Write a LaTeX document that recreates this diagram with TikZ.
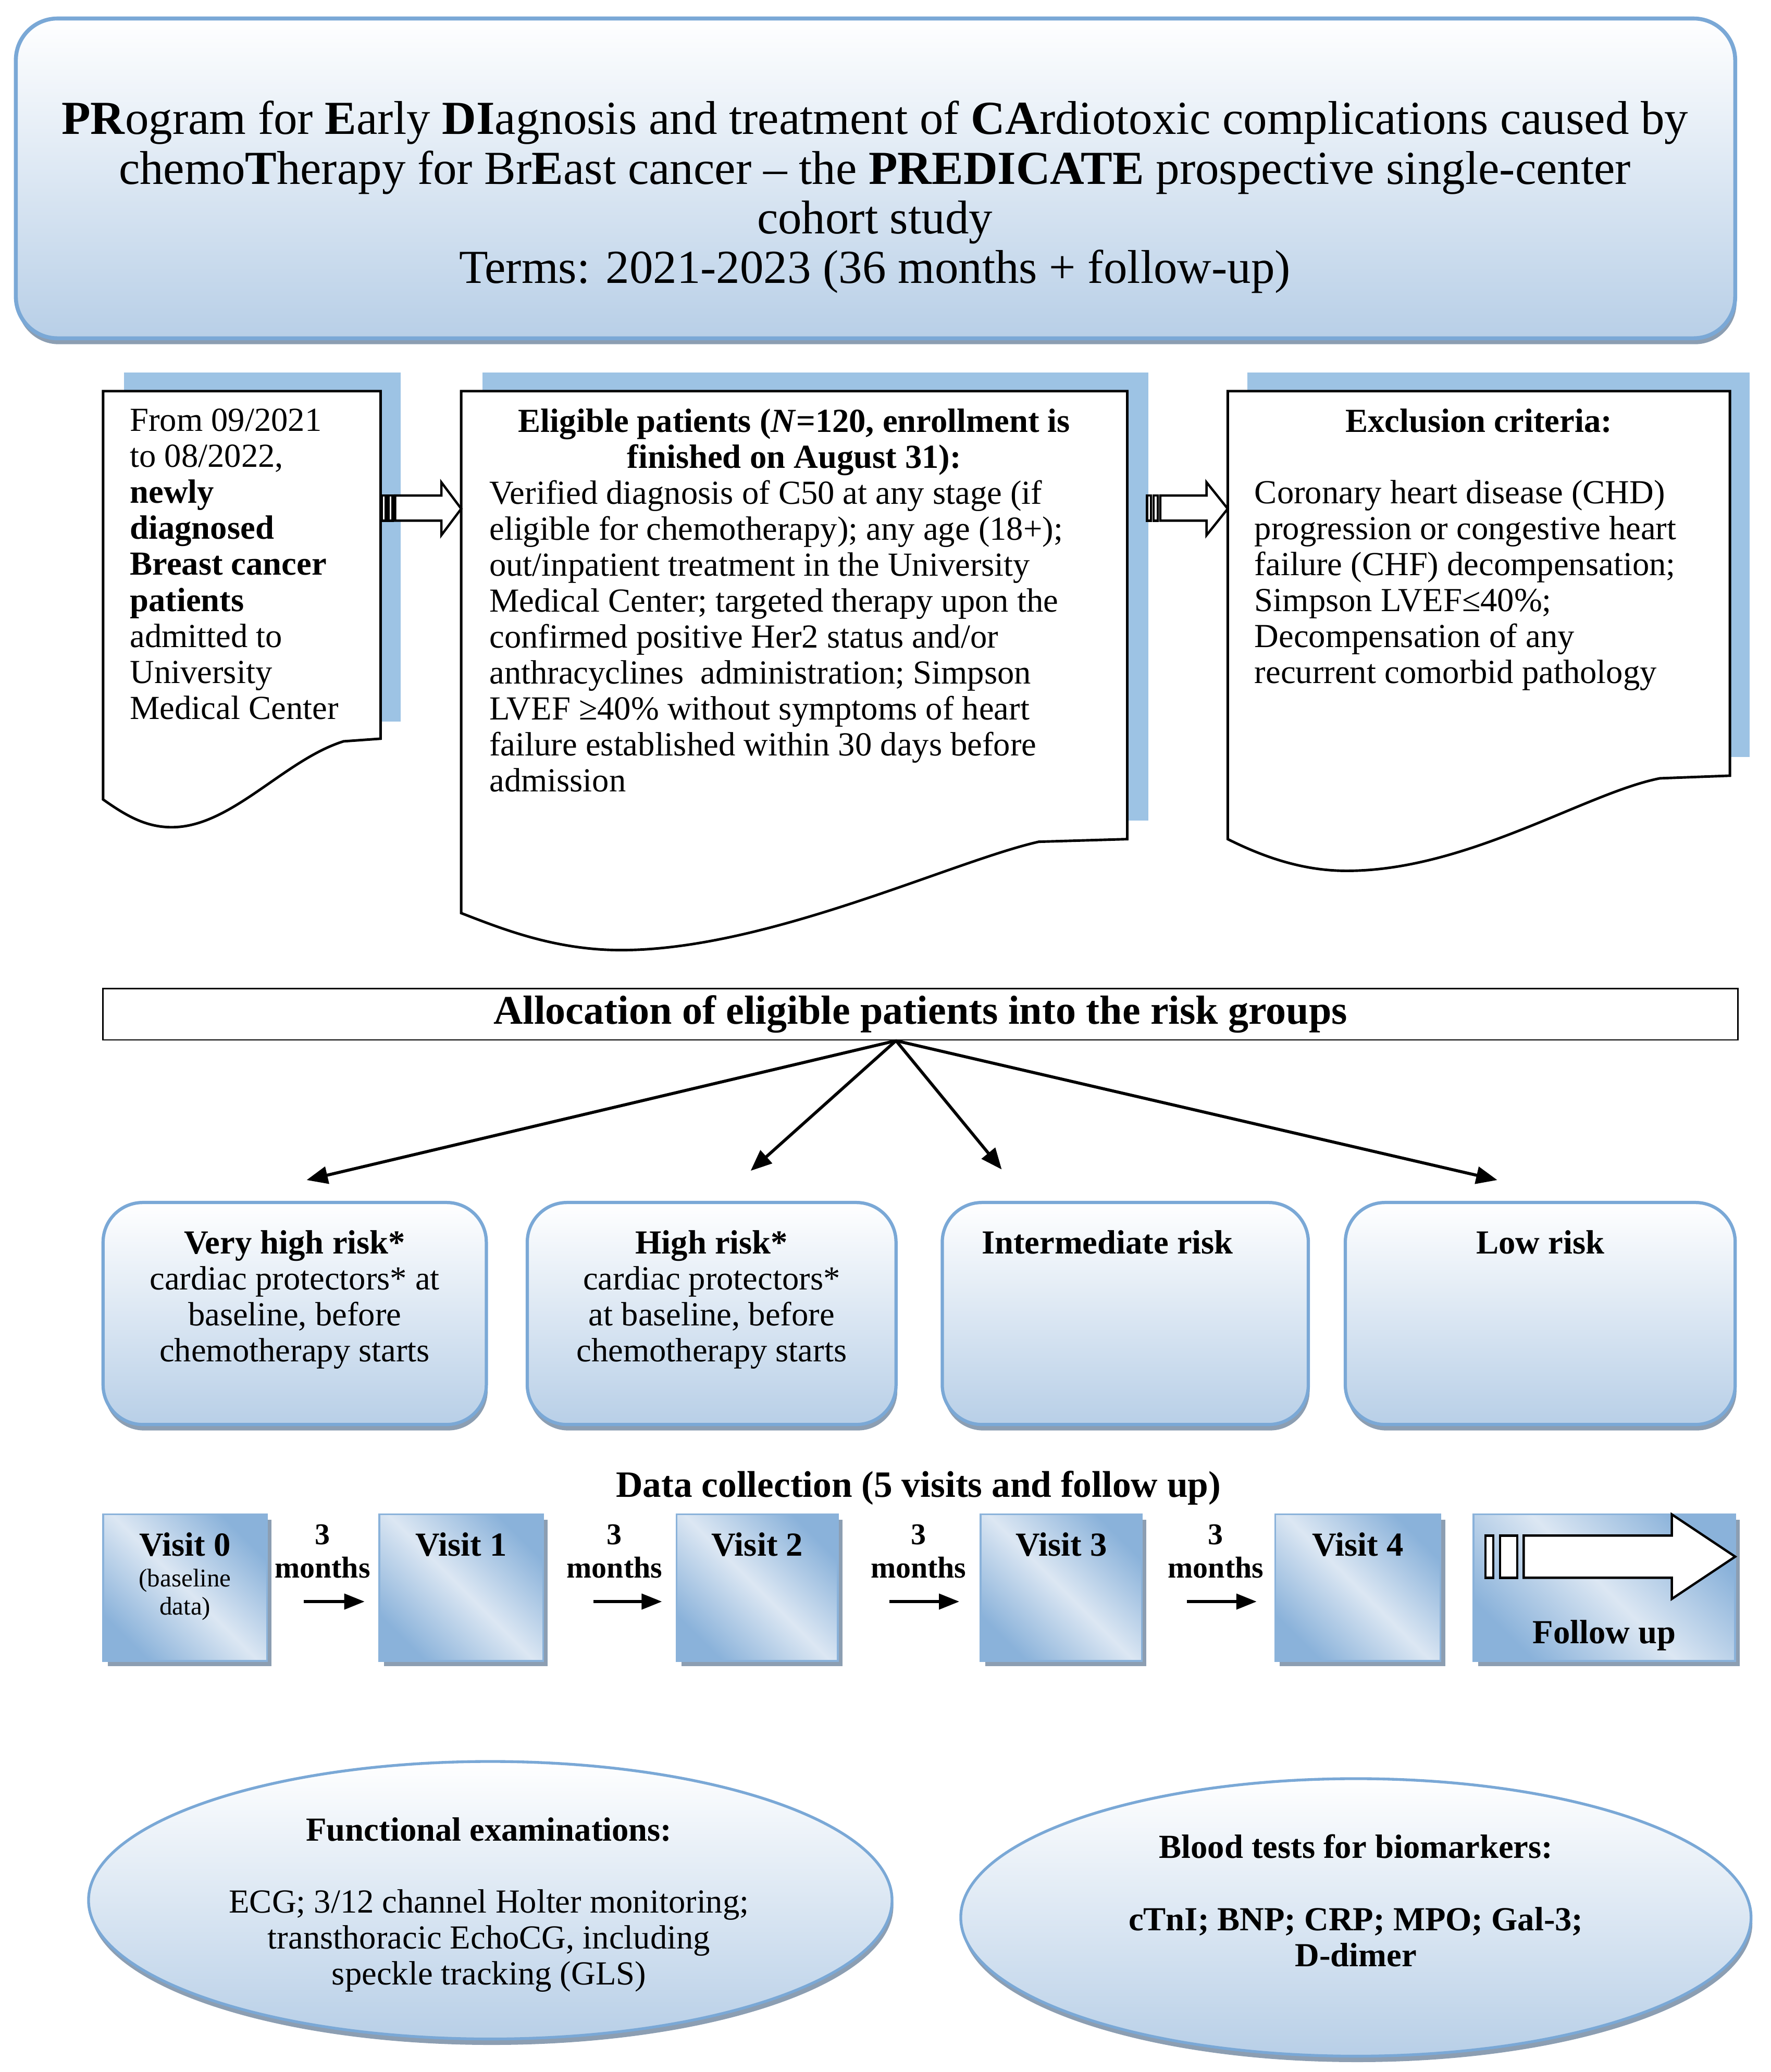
\documentclass[tikz,border=0pt]{standalone}
\usepackage{fontspec}
\setmainfont{Liberation Serif}
\usetikzlibrary{arrows.meta, positioning, shapes.geometric, shadows}

\definecolor{boxline}{RGB}{122,168,214}
\definecolor{boxfill}{RGB}{184,207,231}
\definecolor{shadowgray}{RGB}{140,158,178}
\definecolor{docblue}{RGB}{157,195,228}
\definecolor{visitdark}{RGB}{138,178,218}
\definecolor{visitlight}{RGB}{220,231,243}

\newcommand{\fsz}[2]{\fontsize{#1}{#2}\selectfont}

\tikzset{
	roundbox/.style={draw=boxline, line width=1.4pt, top color=white, bottom color=boxfill, rounded corners=6mm, inner sep=0pt,
		drop shadow={shadow xshift=0.2mm, shadow yshift=-0.9mm, fill=shadowgray, opacity=1}},
	ovalbox/.style={ellipse, draw=boxline, line width=1.2pt, top color=white, bottom color=boxfill, inner sep=0pt,
		drop shadow={shadow xshift=0.2mm, shadow yshift=-0.9mm, fill=shadowgray, opacity=1}},
	visitbox/.style={draw=visitdark, line width=0.8pt, top color=visitdark, bottom color=visitdark, middle color=visitlight,
		shading angle=-45, minimum height=22.2mm, inner sep=0pt,
		drop shadow={shadow xshift=0.7mm, shadow yshift=-0.8mm, fill=shadowgray, opacity=1}},
	docpage/.style={draw=black, line width=1.1pt, fill=white},
	blockarrow/.style={draw=black, line width=1pt, fill=white},
	bodytext/.style={font=\fsz{14.5pt}{15.5pt}, inner sep=0pt},
	headtext/.style={font=\fsz{14.5pt}{15.5pt}\bfseries, inner sep=0pt},
	monthlbl/.style={font=\fsz{13pt}{14.2pt}\bfseries, align=center, inner sep=0pt},
	flowarrow/.style={->, line width=1.3pt},
	montharrow/.style={-{Triangle[length=3.1mm,width=2.3mm]}, line width=1.5pt},
}

\begin{document}
\begin{tikzpicture}[x=0.2mm, y=-0.2mm, >={Triangle[length=3.2mm,width=2.6mm]}]
	\useasboundingbox (0,0) rectangle (1340,1568);
	
	% --- TITLE ---
	\node[roundbox, rounded corners=6.3mm, line width=1.7pt, minimum width=260.2mm, minimum height=48.4mm] (title) at (662.5,135) {};
	\node[anchor=north, align=center, inner sep=0pt, font=\fsz{20.4pt}{21.4pt}] (titlelbl) at (662,76) {
		\textbf{PR}ogram for \textbf{E}arly \textbf{DI}agnosis and treatment of \textbf{CA}rdiotoxic complications caused by\\
		chemo\textbf{T}herapy for Br\textbf{E}ast cancer -- the \textbf{PREDICATE} prospective single-center\\
		cohort study\\
		Terms: 2021-2023 (36 months + follow-up)
	};
	
	% --- DOCUMENTS (blue backing first) ---
	\fill[docblue] (94,282) rectangle (303,546);
	\fill[docblue] (365,282) rectangle (869,621);
	\fill[docblue] (944,282) rectangle (1324,573);
	
	\draw[docpage] (78,296) -- (288,296) -- (288,559) -- (260,561)
		.. controls (215,575) and (175,626) .. (130,626)
		.. controls (110,626) and (95,617) .. (78,605) -- cycle;
	\draw[docpage] (349,296) -- (853,296) -- (853,635) -- (786,637)
		.. controls (720,652) and (580,719) .. (470,719)
		.. controls (420,719) and (380,703) .. (349,691) -- cycle;
	\draw[docpage] (929,296) -- (1309,296) -- (1309,587) -- (1256,589)
		.. controls (1200,600) and (1110,659) .. (1019,659)
		.. controls (985,659) and (955,648) .. (929,635) -- cycle;
	
	\node[bodytext, anchor=north west, align=left] (srclbl) at (98,309) {
		From 09/2021\\ to 08/2022,\\ \textbf{newly}\\ \textbf{diagnosed}\\ \textbf{Breast cancer}\\
		\textbf{patients}\\ admitted to\\ University\\ Medical Center
	};
	
	\node[headtext, anchor=north, align=center] (eliglbl) at (601,309) {
		Eligible patients (\textit{N}=120, enrollment is\\ finished on August 31):
	};
	\node[bodytext, anchor=north west, align=left] (eligtxt) at (370,363) {
		Verified diagnosis of C50 at any stage (if\\
		eligible for chemotherapy); any age (18+);\\
		out/inpatient treatment in the University\\
		Medical Center; targeted therapy upon the\\
		confirmed positive Her2 status and/or\\
		anthracyclines\ \ administration; Simpson\\
		LVEF ≥40\% without symptoms of heart\\
		failure established within 30 days before\\
		admission
	};
	
	\node[headtext, anchor=north] (exclhead) at (1119,309) {Exclusion criteria:};
	\node[bodytext, anchor=north west, align=left] (excltxt) at (949,363) {
		Coronary heart disease (CHD)\\
		progression or congestive heart\\
		failure (CHF) decompensation;\\
		Simpson LVEF≤40\%;\\
		Decompensation of any\\
		recurrent comorbid pathology
	};
	
	% block arrows between the documents
	\draw[blockarrow] (289,375) rectangle (292,394);
	\draw[blockarrow] (294,375) rectangle (297,394);
	\draw[blockarrow] (299,375) -- (334,375) -- (334,365) -- (349,385) -- (334,405) -- (334,394) -- (299,394) -- cycle;
	\draw[blockarrow] (868,375) rectangle (871,394);
	\draw[blockarrow] (873,375) rectangle (876,394);
	\draw[blockarrow] (878,375) -- (913,375) -- (913,365) -- (929,385) -- (913,405) -- (913,394) -- (878,394) -- cycle;
	
	% --- ALLOCATION ---
	\node[draw, line width=0.6pt, minimum width=247.4mm, minimum height=7.8mm, inner sep=0pt,
		font=\fsz{17.5pt}{19pt}\bfseries] (alloc) at (696.5,767.5) {Allocation of eligible patients into the risk groups};
	
	\node[roundbox, minimum width=58mm, minimum height=33.6mm] (vh) at (223,994) {};
	\node[roundbox, minimum width=55.8mm, minimum height=33.6mm] (hi) at (538.5,994) {};
	\node[roundbox, minimum width=55.4mm, minimum height=33.6mm] (im) at (851.5,994) {};
	\node[roundbox, minimum width=59mm, minimum height=33.6mm] (lo) at (1165.5,994) {};
	
	\node[bodytext, align=center, below=4.4mm of vh.north] (vhlbl) {
		\textbf{Very high risk*}\\ cardiac protectors* at\\ baseline, before\\ chemotherapy starts
	};
	\node[bodytext, align=center, below=4.4mm of hi.north] (hilbl) {
		\textbf{High risk*}\\ cardiac protectors*\\ at baseline, before\\ chemotherapy starts
	};
	\node[headtext, below=4.4mm of im.north, xshift=-2.7mm] (imlbl) {Intermediate risk};
	\node[headtext, below=4.4mm of lo.north] (lolbl) {Low risk};
	
	\coordinate (fork) at ([xshift=-3.7mm]alloc.south);
	\coordinate (t1) at (232,893);
	\coordinate (t2) at (568,886);
	\coordinate (t3) at (758,885);
	\coordinate (t4) at (1133,893);
	\draw[flowarrow] (fork) -- (t1);
	\draw[flowarrow] (fork) -- (t2);
	\draw[flowarrow] (fork) -- (t3);
	\draw[flowarrow] (fork) -- (t4);
	
	% --- DATA COLLECTION ---
	\node[font=\fsz{16pt}{18pt}\bfseries, inner sep=0pt] (datalbl) at (695,1126) {Data collection (5 visits and follow up)};
	
	\node[visitbox, minimum width=24.8mm] (v0) at (140,1201.5) {};
	\node[visitbox, minimum width=24.8mm] (v1) at (349,1201.5) {};
	\node[visitbox, minimum width=24.4mm] (v2) at (573,1201.5) {};
	\node[visitbox, minimum width=24.4mm] (v3) at (803,1201.5) {};
	\node[visitbox, minimum width=25mm] (v4) at (1027.5,1201.5) {};
	\node[visitbox, minimum width=39.6mm] (fu) at (1214,1201.5) {};
	
	\node[headtext, below=2.8mm of v0.north] (v0lbl) {Visit 0};
	\node[font=\fsz{11pt}{12pt}, align=center, inner sep=0pt, below=1.8mm of v0lbl] (v0sub) {(baseline\\ data)};
	\node[headtext, below=2.8mm of v1.north] (v1lbl) {Visit 1};
	\node[headtext, below=2.8mm of v2.north] (v2lbl) {Visit 2};
	\node[headtext, below=2.8mm of v3.north] (v3lbl) {Visit 3};
	\node[headtext, below=2.8mm of v4.north] (v4lbl) {Visit 4};
	
	% follow up arrow inside its box
	\draw[blockarrow] (1124,1162) rectangle (1130,1194);
	\draw[blockarrow] (1135,1162) rectangle (1148,1194);
	\draw[blockarrow] (1153,1162) -- (1265,1162) -- (1265,1146) -- (1313,1178) -- (1265,1210) -- (1265,1194) -- (1153,1194) -- cycle;
	\node[headtext] (fulbl) at ([yshift=4mm]fu.south) {Follow up};
	
	\node[monthlbl] (m1) at (244,1174) {3\\months};
	\node[monthlbl] (m2) at (465,1174) {3\\months};
	\node[monthlbl] (m3) at (695,1174) {3\\months};
	\node[monthlbl] (m4) at (920,1174) {3\\months};
	
	\coordinate (a1s) at (230,1212); \coordinate (a1e) at (276,1212);
	\coordinate (a2s) at (449,1212); \coordinate (a2e) at (501,1212);
	\coordinate (a3s) at (673,1212); \coordinate (a3e) at (726,1212);
	\coordinate (a4s) at (898,1212); \coordinate (a4e) at (951,1212);
	\draw[montharrow] (a1s) -- (a1e);
	\draw[montharrow] (a2s) -- (a2e);
	\draw[montharrow] (a3s) -- (a3e);
	\draw[montharrow] (a4s) -- (a4e);
	
	% --- EXAMINATIONS ---
	\node[ovalbox, minimum width=121.6mm, minimum height=42mm] (funcov) at (371,1438) {};
	\node[bodytext, align=center, anchor=north] (funclbl) at (370,1375) {
		\textbf{Functional examinations:}\\[15.5pt]
		ECG; 3/12 channel Holter monitoring;\\
		transthoracic EchoCG, including\\
		speckle tracking (GLS)
	};
	
	\node[ovalbox, minimum width=119.6mm, minimum height=42mm] (bloodov) at (1026,1451) {};
	\node[headtext, align=center, anchor=north] (bloodlbl) at (1026,1388) {
		Blood tests for biomarkers:\\[15.5pt]
		cTnI; BNP; CRP; MPO; Gal-3;\\
		D-dimer
	};
	
\end{tikzpicture}
\end{document}
